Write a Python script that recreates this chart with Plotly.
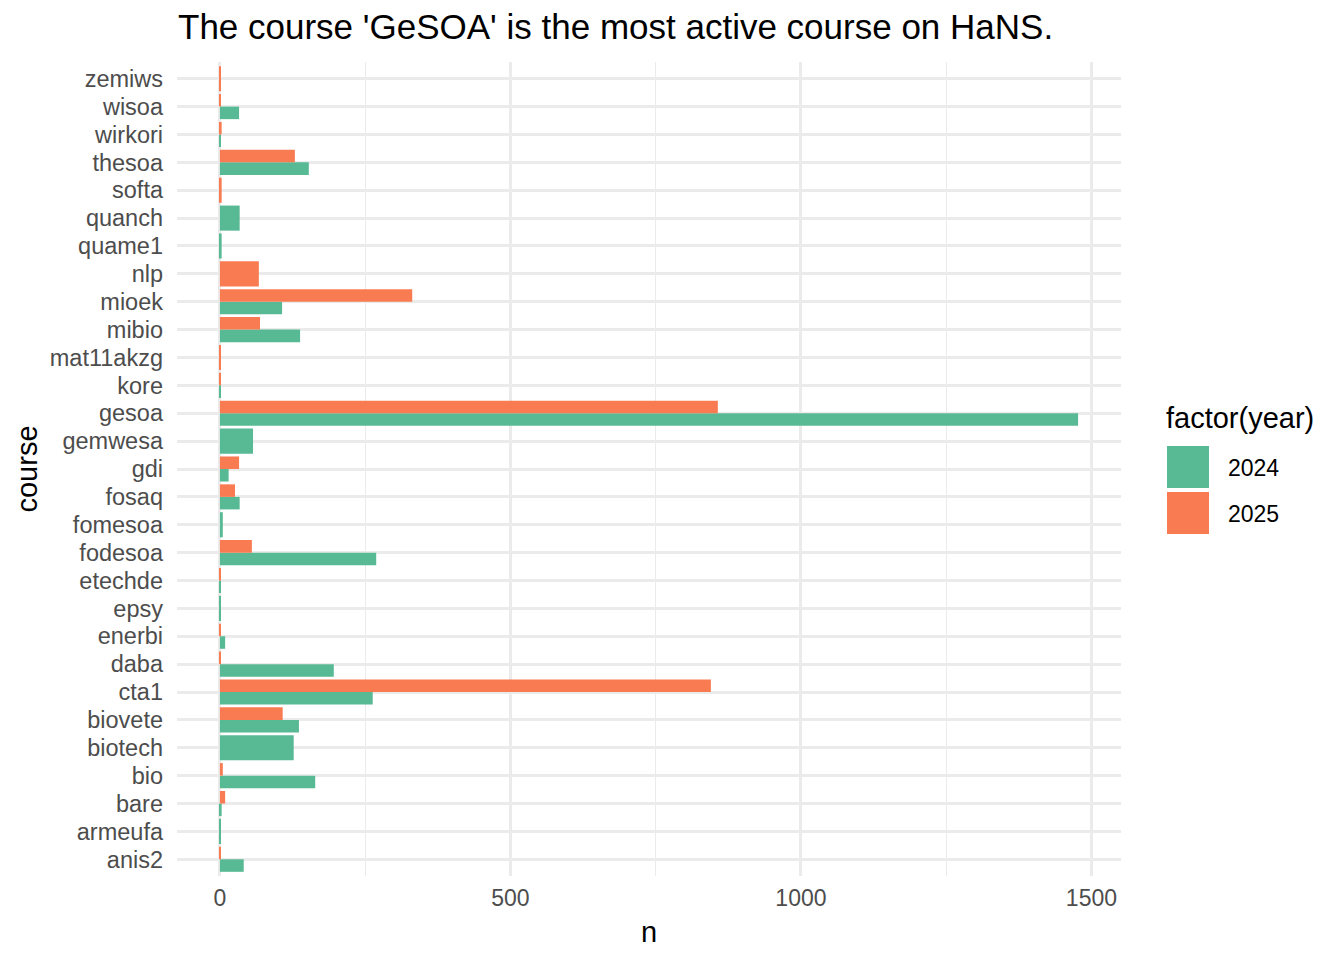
import plotly.graph_objects as go

courses = ["anis2", "armeufa", "bare", "bio", "biotech", "biovete", "cta1", "daba",
           "enerbi", "epsy", "etechde", "fodesoa", "fomesoa", "fosaq", "gdi", "gemwesa",
           "gesoa", "kore", "mat11akzg", "mibio", "mioek", "nlp", "quame1", "quanch",
           "softa", "thesoa", "wirkori", "wisoa", "zemiws"]
n_2024 = [41, 1, 3, 164, 127, 136, 263, 196,
          9, 1, 1, 269, 5, 34, 15, 57,
          1477, 1, None, 138, 107, None, 3, 34,
          None, 153, 1, 33, None]
n_2025 = [1, None, 9, 5, None, 108, 845, 1,
          1, None, 1, 55, None, 26, 33, None,
          857, 1, 1, 69, 331, 67, None, None,
          3, 129, 3, 1, 1]
years = ["2024", "2025"]
colors = {"2024": "#58BA95", "2025": "#F87B52"}

FONT = "Liberation Sans, Arial, Helvetica, sans-serif"
W, H = 1344, 960
L, R, T, B = 177, 1121, 62, 876

# ggplot-style dodge: a lone bar fills the whole 0.9 slot
def geometry(vals, other, lower):
    offs, widths = [], []
    for v, o in zip(vals, other):
        if o is None:
            offs.append(-0.45); widths.append(0.9)
        else:
            offs.append(-0.45 if lower else 0.0); widths.append(0.45)
    return offs, widths

fig = go.Figure()
o24, w24 = geometry(n_2024, n_2025, True)
o25, w25 = geometry(n_2025, n_2024, False)
fig.add_trace(go.Bar(y=courses, x=n_2024, orientation="h", name="2024",
                     marker=dict(color=colors["2024"], line=dict(width=0)),
                     offset=o24, width=w24, showlegend=False))
fig.add_trace(go.Bar(y=courses, x=n_2025, orientation="h", name="2025",
                     marker=dict(color=colors["2025"], line=dict(width=0)),
                     offset=o25, width=w25, showlegend=False))

xmax = max(v for v in n_2024 + n_2025 if v is not None)
pad = 0.05 * xmax

fig.update_layout(
    width=W, height=H,
    margin=dict(l=L, r=W - R, t=T, b=H - B, pad=0, autoexpand=False),
    paper_bgcolor="white", plot_bgcolor="white",
    barmode="overlay",
    font=dict(family=FONT, color="black"),
    title=dict(text="The course 'GeSOA' is the most active course on HaNS.",
               x=178 / W, xref="container", xanchor="left",
               y=1 - 27 / H, yref="container", yanchor="middle",
               pad=dict(l=0, r=0, t=0, b=0),
               automargin=False,
               font=dict(size=35, color="black", family=FONT)),
    xaxis=dict(range=[-pad, xmax + pad], tickvals=[0, 500, 1000, 1500],
               automargin=False,
               showgrid=True, gridcolor="#EBEBEB", gridwidth=2.6,
               minor=dict(tickvals=[250, 750, 1250], showgrid=True,
                          gridcolor="#EBEBEB", gridwidth=1.3),
               zeroline=False, showline=False, ticks="",
               tickfont=dict(size=23, color="#4D4D4D", family=FONT),
               ticklabelstandoff=6,
               title=dict(text="n", font=dict(size=29, color="black", family=FONT),
                          standoff=11)),
    yaxis=dict(type="category", categoryorder="array", categoryarray=courses,
               tickmode="array", tickvals=courses, ticktext=courses,
               automargin=False,
               range=[-0.6, len(courses) - 0.4],
               showgrid=True, gridcolor="#EBEBEB", gridwidth=2.6,
               zeroline=False, showline=False, ticks="",
               tickfont=dict(size=23.5, color="#4D4D4D", family=FONT),
               ticklabelstandoff=13,
               title=dict(text="course", font=dict(size=29, color="black", family=FONT),
                          standoff=3)),
)

# legend (ggplot style, large keys)
def px(xp):
    return (xp - L) / (R - L)

def py(yp):
    return (B - yp) / (B - T)

shapes = []
annotations = [dict(text="factor(year)", x=px(1164), y=py(418), xref="paper", yref="paper",
                    xanchor="left", yanchor="middle", showarrow=False,
                    font=dict(size=29, color="black", family=FONT))]
for i, yr in enumerate(years):
    top = 446 + i * 46
    shapes.append(dict(type="rect", xref="paper", yref="paper",
                       x0=px(1167), x1=px(1209), y0=py(top + 42), y1=py(top),
                       fillcolor=colors[yr], line=dict(width=0)))
    annotations.append(dict(text=yr, x=px(1226), y=py(top + 22), xref="paper", yref="paper",
                            xanchor="left", yanchor="middle", showarrow=False,
                            font=dict(size=23, color="black", family=FONT)))
fig.update_layout(shapes=shapes, annotations=annotations)

fig.write_html("out.html", config={"displayModeBar": False},
               post_script="document.body.style.margin='0';document.body.style.padding='0';")
